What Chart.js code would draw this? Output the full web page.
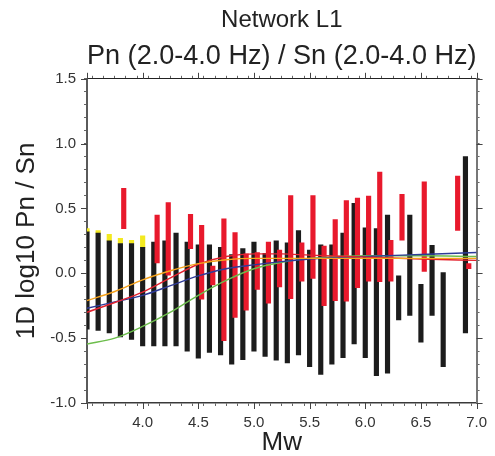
<!DOCTYPE html>
<html>
<head>
<meta charset="utf-8">
<script src="https://cdn.jsdelivr.net/npm/chart.js@4/dist/chart.umd.min.js"></script>
<style>
  body { margin: 0; background: #fff; }
  #wrap { width: 495px; height: 456px; }
</style>
</head>
<body>
<div id="wrap"><canvas id="chart" width="495" height="456"></canvas></div>
<script>
// black bars (Mw, low, high)
const blackMw = [3.5, 3.6, 3.7, 3.8, 3.9, 4.0, 4.1, 4.2, 4.3, 4.4, 4.5, 4.6, 4.7, 4.8, 4.9, 5.0, 5.1, 5.2, 5.3, 5.4, 5.5, 5.6, 5.7, 5.8, 5.9, 6.0, 6.1, 6.2, 6.3, 6.4, 6.5, 6.6, 6.7, 6.9];
const blackLow = [-0.43, -0.44, -0.46, -0.49, -0.51, -0.56, -0.56, -0.56, -0.56, -0.60, -0.655, -0.61, -0.63, -0.70, -0.665, -0.60, -0.64, -0.67, -0.69, -0.63, -0.72, -0.78, -0.70, -0.65, -0.545, -0.65, -0.79, -0.77, -0.36, -0.325, -0.53, -0.325, -0.72, -0.46];
const blackHigh = [0.32, 0.31, 0.25, 0.23, 0.23, 0.20, 0.24, 0.25, 0.31, 0.24, 0.22, 0.22, 0.20, 0.145, 0.19, 0.24, 0.155, 0.25, 0.235, 0.33, 0.18, 0.22, 0.22, 0.31, 0.54, 0.35, 0.345, 0.45, -0.02, 0.45, -0.085, 0.215, 0.005, 0.90];

// yellow caps
const yellowMw = [3.5, 3.6, 3.7, 3.8, 3.9, 4.0];
const yellowLow = [0.32, 0.31, 0.25, 0.23, 0.23, 0.20];
const yellowHigh = [0.345, 0.33, 0.30, 0.27, 0.255, 0.29];

// red bars
const redMw = [3.83, 4.13, 4.23, 4.43, 4.53, 4.63, 4.73, 4.83, 4.93, 5.03, 5.13, 5.23, 5.33, 5.43, 5.53, 5.63, 5.73, 5.83, 5.93, 6.03, 6.13, 6.23, 6.33, 6.53, 6.83, 6.93];
const redLow = [0.345, 0.08, -0.015, 0.19, -0.20, -0.09, -0.52, -0.34, -0.285, -0.125, -0.23, -0.105, -0.195, -0.06, -0.04, -0.25, -0.21, -0.215, -0.11, -0.06, -0.065, -0.06, 0.255, 0.015, 0.33, 0.035];
const redHigh = [0.655, 0.45, 0.545, 0.455, 0.37, 0.055, 0.42, 0.315, 0.15, 0.16, 0.24, 0.18, 0.60, 0.235, 0.60, 0.21, 0.415, 0.56, 0.58, 0.595, 0.78, 0.255, 0.61, 0.705, 0.75, 0.075];

// fitted curves
const curveMw = [3.5, 3.75, 4.0, 4.25, 4.5, 4.75, 5.0, 5.25, 5.5, 6.0, 6.5, 7.0];
const orangeCurve = [-0.21, -0.14, -0.05, 0.02, 0.075, 0.105, 0.115, 0.115, 0.115, 0.115, 0.115, 0.115];
const redCurve = [-0.30, -0.225, -0.145, -0.035, 0.07, 0.13, 0.15, 0.15, 0.14, 0.125, 0.11, 0.10];
const blueCurve = [-0.27, -0.22, -0.17, -0.095, -0.02, 0.035, 0.065, 0.09, 0.11, 0.13, 0.145, 0.16];
const greenCurve = [-0.545, -0.50, -0.41, -0.30, -0.17, -0.055, 0.035, 0.085, 0.115, 0.135, 0.135, 0.13];

const FONT = '"Liberation Sans", Arial, Helvetica, sans-serif';

function bars(xs, lo, hi) {
    return xs.map((x, i) => ({ x: x, y: [lo[i], hi[i]] }));
}
function pts(xs, ys) {
    return xs.map((x, i) => ({ x: x, y: ys[i] }));
}
function isMajor(v) {
    return Math.abs(Math.round(v * 10) % 5) === 0;
}
function curve(data, color) {
    return {
        type: 'line', data: pts(curveMw, data), borderColor: color, borderWidth: 1.4,
        pointRadius: 0, tension: 0.4, cubicInterpolationMode: 'monotone', order: 0
    };
}

// longer ticks at every 0.5
const majorTicks = {
    id: 'majorTicks',
    afterDraw(chart) {
        const { ctx, chartArea: a } = chart;
        const xs = chart.scales.x, ys = chart.scales.y;
        ctx.save();
        ctx.strokeStyle = '#444';
        ctx.lineWidth = 1;
        ctx.beginPath();
        xs.ticks.filter(t => isMajor(t.value)).forEach(t => {
            const px = Math.round(xs.getPixelForValue(t.value)) + 0.5;
            ctx.moveTo(px, a.bottom); ctx.lineTo(px, a.bottom + 6);
            ctx.moveTo(px, a.top); ctx.lineTo(px, a.top - 6);
        });
        ys.ticks.filter(t => isMajor(t.value)).forEach(t => {
            const py = Math.round(ys.getPixelForValue(t.value)) + 0.5;
            ctx.moveTo(a.left, py); ctx.lineTo(a.left - 6, py);
            ctx.moveTo(a.right, py); ctx.lineTo(a.right + 6, py);
        });
        ctx.stroke();
        ctx.restore();
    }
};

const minorGrid = { drawOnChartArea: false, tickLength: 3, tickColor: '#666', tickWidth: 1 };

new Chart(document.getElementById('chart'), {
    type: 'bar',
    data: {
        datasets: [
            curve(orangeCurve, '#f5a21b'),
            curve(redCurve, '#e3232f'),
            curve(blueCurve, '#2e3b98'),
            curve(greenCurve, '#6cbd4b'),
            { data: bars(redMw, redLow, redHigh), backgroundColor: '#e8192c', barThickness: 4.5, grouped: false, order: 1 },
            { data: bars(blackMw, blackLow, blackHigh), backgroundColor: '#1c1c1c', barThickness: 4.5, grouped: false, order: 2 },
            { data: bars(yellowMw, yellowLow, yellowHigh), backgroundColor: '#f3e91f', barThickness: 4.5, grouped: false, order: 3 }
        ]
    },
    options: {
        responsive: false,
        animation: false,
        layout: { padding: 0 },
        plugins: {
            legend: { display: false },
            tooltip: { enabled: false },
            title: {
                display: true, fullSize: false, text: 'Network L1', color: '#222',
                font: { family: FONT, size: 24, weight: 'normal', lineHeight: 1.2 },
                padding: { top: 6, bottom: 0 }
            },
            subtitle: {
                display: true, fullSize: false, text: 'Pn (2.0-4.0 Hz) / Sn (2.0-4.0 Hz)', color: '#222',
                font: { family: FONT, size: 27.5, weight: 'normal', lineHeight: 1.2 },
                padding: { top: 5, bottom: 2 }
            }
        },
        scales: {
            x: {
                type: 'linear', position: 'bottom', min: 3.5, max: 7.0, offset: false,
                grid: minorGrid,
                border: { display: true, color: '#3a3a3a', width: 1.5 },
                ticks: {
                    stepSize: 0.1, autoSkip: false, maxRotation: 0, padding: 8, color: '#333',
                    font: { family: FONT, size: 15 },
                    callback: v => (isMajor(v) && v > 3.55) ? v.toFixed(1) : ''
                },
                title: {
                    display: true, text: 'Mw', color: '#222',
                    font: { family: FONT, size: 26, lineHeight: 1 },
                    padding: { top: 0, bottom: 0 }
                },
                afterFit: s => { s.height = 53; }
            },
            xTop: {
                type: 'linear', position: 'top', min: 3.5, max: 7.0, offset: false,
                grid: minorGrid,
                border: { display: true, color: '#222', width: 1 },
                ticks: { stepSize: 0.1, display: false },
                afterFit: s => { s.height = 4; }
            },
            y: {
                type: 'linear', position: 'left', min: -1.0, max: 1.5,
                grid: minorGrid,
                border: { display: true, color: '#5a5a5a', width: 2 },
                ticks: {
                    stepSize: 0.1, autoSkip: false, padding: 8, color: '#333',
                    font: { family: FONT, size: 15 },
                    callback: v => isMajor(v) ? (Math.abs(v) < 1e-9 ? '0.0' : v.toFixed(1)) : ''
                },
                title: {
                    display: true, text: '1D log10 Pn / Sn', color: '#222',
                    font: { family: FONT, size: 26, lineHeight: 1 },
                    padding: { top: 14, bottom: 0 }
                },
                afterFit: s => { s.width = 87; }
            },
            yRight: {
                type: 'linear', position: 'right', min: -1.0, max: 1.5,
                grid: minorGrid,
                border: { display: true, color: '#777', width: 2 },
                ticks: { stepSize: 0.1, display: false },
                afterFit: s => { s.width = 12; }
            }
        }
    },
    plugins: [majorTicks]
});
</script>
</body>
</html>
